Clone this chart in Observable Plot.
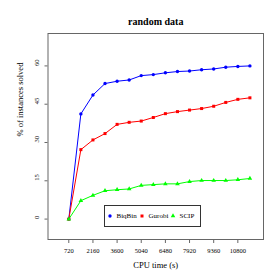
<!DOCTYPE html>
<html>
<head>
<meta charset="utf-8">
<script src="https://cdn.jsdelivr.net/npm/d3@7"></script>
<script src="https://cdn.jsdelivr.net/npm/@observablehq/plot@0.6"></script>
<style>
  html, body { margin: 0; padding: 0; background: #fff; }
  #wrap { position: relative; width: 280px; height: 280px; font-family: "Liberation Serif", "DejaVu Serif", serif; }
  #legend { position: absolute; left: 104px; top: 205px; width: 95px; height: 19.5px; border: 1px solid #333; box-sizing: content-box; font-size: 7px; }
  #legend .item { display: flex; align-items: center; position: absolute; top: 0; height: 100%; }
  #legend svg { display: block; }
</style>
</head>
<body>
<div id="wrap"></div>
<script>
const times = [720, 1440, 2160, 2880, 3600, 4320, 5040, 5760, 6480, 7200, 7920, 8640, 9360, 10080, 10800, 11520];
const biqbin = [0, 41.2, 48.6, 53.1, 54.0, 54.5, 56.2, 56.6, 57.3, 57.8, 58.0, 58.5, 58.8, 59.5, 59.8, 60.0];
const gurobi = [0, 27.2, 31.0, 33.5, 37.1, 37.9, 38.4, 39.8, 41.3, 42.1, 42.7, 43.3, 44.2, 45.7, 46.9, 47.5];
const scip = [0, 7.2, 9.3, 11.1, 11.5, 11.8, 13.2, 13.5, 13.8, 13.8, 14.7, 15.1, 15.1, 15.1, 15.4, 15.9];
const seriesNames = ["BiqBin", "Gurobi", "SCIP"];
const seriesColors = ["#0000ff", "#ff0000", "#00ff00"];
const seriesSymbols = ["circle", "square", "triangle"];
const xTicks = [720, 2160, 3600, 5040, 6480, 7920, 9360, 10800];
const yTicks = [0, 15, 30, 45, 60];
const title = "random data";
const xLabel = "CPU time (s)";
const yLabel = "% of instances solved";

const allSeries = [biqbin, gurobi, scip];
const rows = [];
allSeries.forEach((vals, si) => vals.forEach((v, i) => rows.push({series: seriesNames[si], t: times[i], v})));

const chart = Plot.plot({
  width: 280, height: 280,
  marginLeft: 47.5, marginRight: 17, marginTop: 33, marginBottom: 41,
  style: {fontFamily: "Liberation Serif", fontSize: "6.5px", color: "#000", background: "#fff"},
  x: {domain: [-520, 12330]},
  y: {domain: [-8, 72.7]},
  color: {domain: seriesNames, range: seriesColors},
  symbol: {domain: seriesNames, range: seriesSymbols},
  marks: [
    Plot.axisX({ticks: xTicks, tickSize: 4, tickPadding: 5, tickFormat: d => String(d), label: null, stroke: "#666"}),
    Plot.axisY({ticks: yTicks, tickSize: 3, text: null, label: null, stroke: "#666"}),
    Plot.text(yTicks, {y: d => d, text: d => String(d), frameAnchor: "left", dx: -11, rotate: -90, fontSize: 6.5}),
    Plot.frame({stroke: "#666", strokeWidth: 1}),
    Plot.line(rows, {x: "t", y: "v", z: "series", stroke: "series", strokeWidth: 1}),
    Plot.dot(rows, {x: "t", y: "v", fill: "series", symbol: "series", r: 1.7, stroke: null}),
    Plot.text([title], {frameAnchor: "top", dy: -16, fontWeight: "bold", fontSize: 10}),
    Plot.text([xLabel], {frameAnchor: "bottom", dy: 28, fontSize: 8.5}),
    Plot.text([yLabel], {frameAnchor: "left", dx: -27.5, rotate: -90, fontSize: 8.5})
  ]
});
const wrap = document.getElementById("wrap");
wrap.appendChild(chart);

// legend
const legend = document.createElement("div");
legend.id = "legend";
const itemLefts = [1, 33, 64];
const symbolTypes = {circle: d3.symbolCircle, square: d3.symbolSquare, triangle: d3.symbolTriangle};
seriesNames.forEach((name, i) => {
  const item = document.createElement("div");
  item.className = "item";
  item.style.left = itemLefts[i] + "px";
  const sym = d3.symbol(symbolTypes[seriesSymbols[i]], 9)();
  item.innerHTML = `<svg width="8" height="8" viewBox="-4 -4 8 8"><path d="${sym}" fill="${seriesColors[i]}"/></svg><span style="margin-left:2.5px">${name}</span>`;
  legend.appendChild(item);
});
wrap.appendChild(legend);
</script>
</body>
</html>
